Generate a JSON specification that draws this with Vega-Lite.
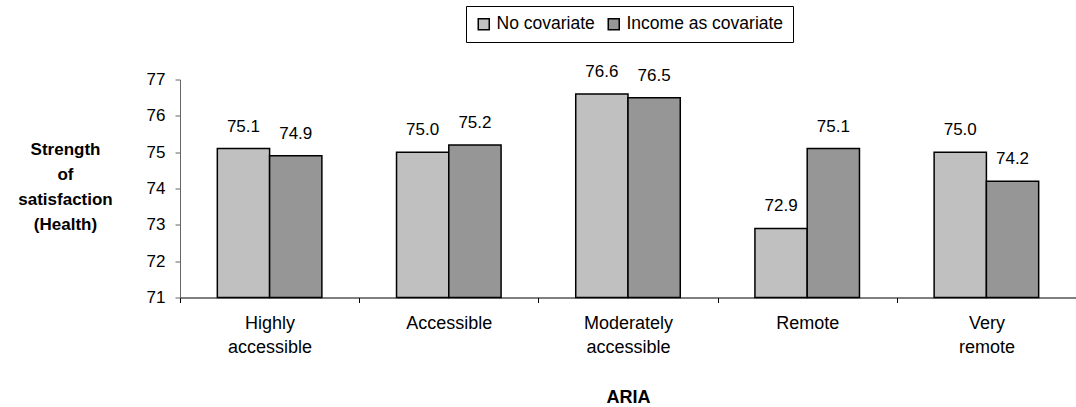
{
  "$schema": "https://vega.github.io/schema/vega-lite/v6.json",
  "width": 896,
  "height": 218,
  "autosize": {"type": "none"},
  "padding": {"left": 180, "top": 79.5, "right": 0, "bottom": 109.5},
  "background": "white",
  "config": {
    "view": {"stroke": null},
    "font": "Liberation Sans",
    "axis": {"grid": false}
  },
  "data": {
    "values": [
      {"region": "Highly accessible", "series": "No covariate", "value": 75.1},
      {"region": "Highly accessible", "series": "Income as covariate", "value": 74.9},
      {"region": "Accessible", "series": "No covariate", "value": 75.0},
      {"region": "Accessible", "series": "Income as covariate", "value": 75.2},
      {"region": "Moderately accessible", "series": "No covariate", "value": 76.6},
      {"region": "Moderately accessible", "series": "Income as covariate", "value": 76.5},
      {"region": "Remote", "series": "No covariate", "value": 72.9},
      {"region": "Remote", "series": "Income as covariate", "value": 75.1},
      {"region": "Very remote", "series": "No covariate", "value": 75.0},
      {"region": "Very remote", "series": "Income as covariate", "value": 74.2}
    ]
  },
  "encoding": {
    "x": {
      "field": "region",
      "type": "nominal",
      "scale": {"domain": ["Highly accessible", "Accessible", "Moderately accessible", "Remote", "Very remote"], "paddingInner": 0, "paddingOuter": 0},
      "axis": {
        "title": "ARIA",
        "labelAngle": 0,
        "tickBand": "extent",
        "labelExpr": "split(datum.label, ' ')",
        "labelFontSize": 18,
        "labelLineHeight": 24,
        "labelPadding": 12,
        "labelBaseline": "top",
        "labelColor": "#000",
        "labelLimit": 200,
        "tickSize": 5,
        "tickColor": "#000",
        "domainColor": "#000",
        "titleFontSize": 18,
        "titleFontWeight": "bold",
        "titleColor": "#000",
        "titleX": 448,
        "titleY": 105,
        "titleAlign": "center",
        "titleBaseline": "alphabetic"
      }
    },
    "xOffset": {
      "field": "series",
      "type": "nominal",
      "scale": {"domain": ["No covariate", "Income as covariate"], "paddingInner": 0, "paddingOuter": 0.714}
    },
    "y": {
      "field": "value",
      "type": "quantitative",
      "scale": {"domain": [71, 77], "zero": false, "nice": false},
      "axis": {
        "values": [71, 72, 73, 74, 75, 76, 77],
        "title": ["Strength", "of", "satisfaction", "(Health)"],
        "titleAngle": 0,
        "titleX": -115,
        "titleY": 69.5,
        "titleAlign": "center",
        "titleBaseline": "middle",
        "titleLineHeight": 25,
        "titleFontSize": 17,
        "titleFontWeight": "bold",
        "titleColor": "#000",
        "labelFontSize": 17,
        "labelColor": "#000",
        "labelPadding": 10,
        "tickSize": 5,
        "tickColor": "#666",
        "domainColor": "#666"
      }
    }
  },
  "layer": [
    {
      "mark": {"type": "bar", "stroke": "#000", "strokeWidth": 1.5},
      "encoding": {
        "y2": {"datum": 71},
        "color": {
          "field": "series",
          "type": "nominal",
          "scale": {"domain": ["No covariate", "Income as covariate"], "range": ["#C0C0C0", "#969696"]},
          "legend": {
            "orient": "none",
            "legendX": 286,
            "legendY": -73.5,
            "direction": "horizontal",
            "title": null,
            "symbolType": "square",
            "symbolSize": 121,
            "symbolStrokeColor": "#000",
            "labelFontSize": 17.5,
            "labelColor": "#000",
            "labelLimit": 400,
            "labelOffset": 4,
            "columnPadding": 10,
            "padding": 9,
            "strokeColor": "#000",
            "fillColor": "white"
          }
        }
      }
    },
    {
      "mark": {"type": "text", "dy": -17, "baseline": "alphabetic", "align": "center", "fontSize": 17, "color": "#000"},
      "encoding": {
        "text": {"field": "value", "type": "quantitative", "format": ".1f"}
      }
    }
  ]
}
